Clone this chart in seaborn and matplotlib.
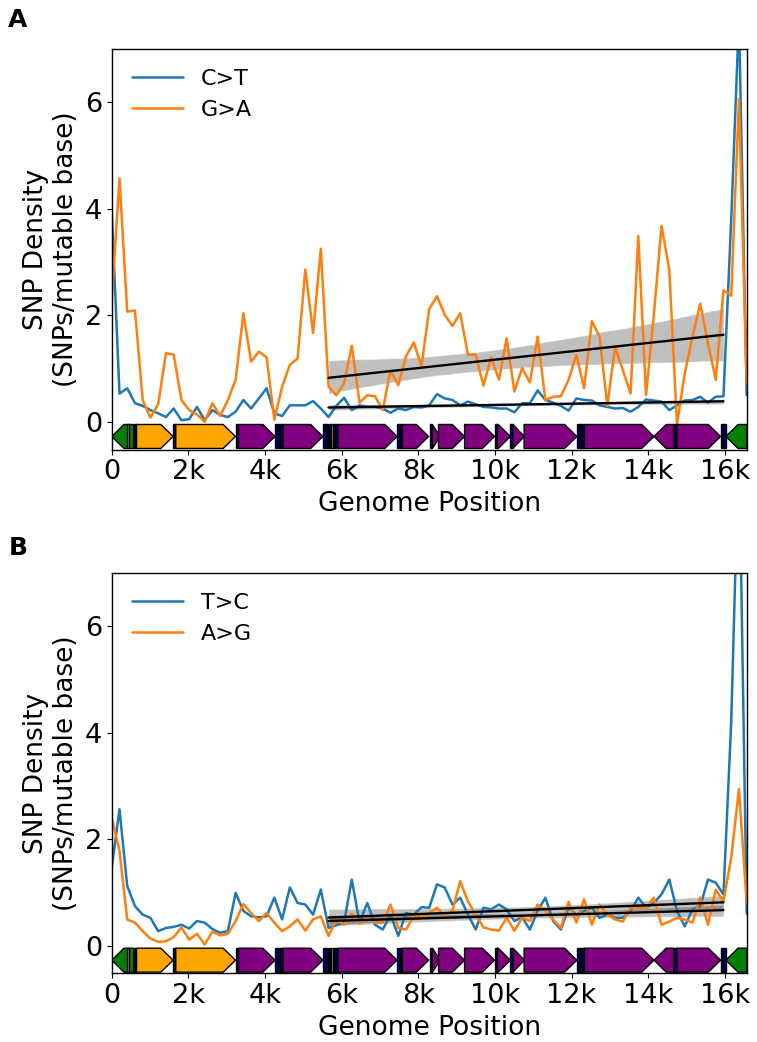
import numpy as np
import matplotlib.pyplot as plt
import seaborn as sns
from matplotlib.patches import Polygon, Rectangle

sns.set_style("ticks")
plt.rcParams['font.family'] = ['DejaVu Sans']
plt.rcParams.update({"text.color": "black", "axes.labelcolor": "black",
                     "xtick.color": "black", "ytick.color": "black",
                     "axes.edgecolor": "black"})

# bin positions along the mitochondrial genome (83 bins over 16569 bp)
pos = np.linspace(0, 16569, 83)

# Panel A
c_to_t = [3.96, 0.53, 0.63, 0.35, 0.30, 0.22, 0.16, 0.09, 0.25, 0.03,
          0.05, 0.28, 0.03, 0.22, 0.13, 0.09, 0.19, 0.41, 0.25, 0.44,
          0.63, 0.16, 0.11, 0.31, 0.31, 0.31, 0.39, 0.25, 0.09, 0.30,
          0.45, 0.22, 0.31, 0.28, 0.28, 0.25, 0.17, 0.25, 0.22, 0.28,
          0.27, 0.31, 0.52, 0.44, 0.41, 0.31, 0.38, 0.33, 0.28, 0.27,
          0.25, 0.25, 0.18, 0.35, 0.35, 0.59, 0.41, 0.36, 0.30, 0.21,
          0.44, 0.41, 0.40, 0.31, 0.28, 0.25, 0.26, 0.19, 0.28, 0.42,
          0.40, 0.38, 0.22, 0.31, 0.40, 0.41, 0.47, 0.36, 0.47, 0.48,
          3.8, 7.6, 0.5]
g_to_a = [2.30, 4.57, 2.07, 2.09, 0.41, 0.08, 0.33, 1.29, 1.26, 0.41,
          0.22, 0.14, 0.00, 0.35, 0.11, 0.41, 0.79, 2.04, 1.13, 1.32,
          1.21, 0.04, 0.66, 1.07, 1.19, 2.86, 1.67, 3.25, 0.66, 0.50,
          0.72, 1.43, 0.36, 0.50, 0.48, 0.22, 0.97, 0.69, 1.23, 1.49,
          1.04, 2.12, 2.36, 2.01, 1.80, 2.04, 1.26, 1.26, 0.68, 1.21,
          0.79, 1.57, 0.57, 1.01, 0.74, 1.60, 0.41, 0.47, 0.48, 0.79,
          1.26, 0.63, 1.89, 1.60, 0.30, 1.41, 0.97, 0.53, 3.49, 0.50,
          2.00, 3.68, 2.86, -0.05, 0.91, 1.60, 2.22, 1.48, 0.79, 2.47,
          2.37, 6.06, 0.72]

# Panel B
t_to_c = [1.46, 2.56, 1.12, 0.74, 0.58, 0.52, 0.27, 0.33, 0.35, 0.39,
          0.32, 0.46, 0.43, 0.31, 0.24, 0.27, 0.99, 0.65, 0.55, 0.53,
          0.55, 0.90, 0.49, 1.09, 0.80, 0.77, 0.58, 1.05, 0.33, 0.38,
          0.43, 1.24, 0.43, 0.80, 0.39, 0.30, 0.58, 0.18, 0.61, 0.58,
          0.72, 0.71, 1.15, 1.09, 0.77, 0.90, 0.58, 0.30, 0.71, 0.68,
          0.77, 0.68, 0.46, 0.53, 0.30, 0.65, 0.90, 0.46, 0.30, 0.71,
          0.58, 0.65, 0.71, 0.52, 0.58, 0.52, 0.52, 0.65, 0.90, 0.71,
          0.80, 0.96, 1.24, 0.65, 0.36, 0.68, 0.74, 1.24, 1.18, 0.96,
          4.2, 9.5, 0.6]
a_to_g = [2.40, 1.78, 0.49, 0.43, 0.27, 0.13, 0.07, 0.08, 0.16, 0.34,
          0.11, 0.22, 0.02, 0.26, 0.19, 0.22, 0.46, 0.78, 0.61, 0.46,
          0.61, 0.43, 0.27, 0.36, 0.49, 0.28, 0.49, 0.55, 0.18, 0.49,
          0.39, 0.60, 0.41, 0.52, 0.43, 0.43, 0.77, 0.33, 0.30, 0.55,
          0.54, 0.61, 0.71, 0.55, 0.65, 1.21, 0.83, 0.58, 0.34, 0.30,
          0.28, 0.52, 0.28, 0.52, 0.46, 0.77, 0.65, 0.49, 0.33, 0.82,
          0.43, 0.87, 0.39, 0.77, 0.58, 0.49, 0.45, 0.71, 0.71, 0.71,
          0.90, 0.39, 0.45, 0.52, 0.49, 0.43, 0.90, 0.39, 1.05, 0.83,
          1.65, 2.94, 0.80]

# bins used for the linear fit
fit_start, fit_end = 28, 80

# mtDNA features: name, start, end, strand, kind
genes = [
    ("D-loop", 0, 576, -1, "dloop"),
    ("promoter", 400, 450, 0, "pink"),
    ("tRNA-Phe", 577, 647, 0, "trna"),
    ("12S", 648, 1601, 1, "rrna"),
    ("tRNA-Val", 1602, 1670, 0, "trna"),
    ("16S", 1671, 3229, 1, "rrna"),
    ("tRNA-Leu", 3230, 3304, 0, "trna"),
    ("ND1", 3307, 4262, 1, "cds"),
    ("tRNA-Ile", 4263, 4331, 0, "trna"),
    ("tRNA-Gln", 4329, 4400, 0, "trna"),
    ("tRNA-Met", 4402, 4469, 0, "trna"),
    ("ND2", 4470, 5511, 1, "cds"),
    ("tRNA-Trp", 5512, 5579, 0, "trna"),
    ("tRNA-Ala", 5587, 5655, 0, "trna"),
    ("tRNA-Asn", 5657, 5729, 0, "trna"),
    ("OriL", 5730, 5770, 0, "ori"),
    ("tRNA-Cys", 5771, 5826, 0, "trna"),
    ("tRNA-Tyr", 5826, 5891, 0, "trna"),
    ("COI", 5904, 7445, 1, "cds"),
    ("tRNA-Ser", 7446, 7514, 0, "trna"),
    ("tRNA-Asp", 7518, 7585, 0, "trna"),
    ("COII", 7586, 8269, 1, "cds"),
    ("tRNA-Lys", 8295, 8364, 0, "trna"),
    ("ATP8", 8366, 8572, 1, "cds"),
    ("ATP6", 8527, 9207, 1, "cds"),
    ("COIII", 9207, 9990, 1, "cds"),
    ("tRNA-Gly", 9991, 10058, 0, "trna"),
    ("ND3", 10059, 10404, 1, "cds"),
    ("tRNA-Arg", 10405, 10469, 0, "trna"),
    ("ND4L", 10470, 10766, 1, "cds"),
    ("ND4", 10760, 12137, 1, "cds"),
    ("tRNA-His", 12138, 12206, 0, "trna"),
    ("tRNA-Ser2", 12207, 12265, 0, "trna"),
    ("tRNA-Leu2", 12266, 12336, 0, "trna"),
    ("ND5", 12337, 14148, 1, "cds"),
    ("ND6", 14149, 14673, -1, "cds"),
    ("tRNA-Glu", 14674, 14742, 0, "trna"),
    ("CYTB", 14747, 15887, 1, "cds"),
    ("tRNA-Thr", 15888, 15953, 0, "trna"),
    ("tRNA-Pro", 15956, 16023, 0, "trna"),
    ("D-loop", 16024, 16569, -1, "dloop"),
]
kind_colors = {"dloop": "green", "rrna": "orange", "cds": "purple",
               "trna": "navy", "ori": "#f0e040", "pink": "palevioletred"}


def draw_genes(ax):
    y0, y1 = -0.5, -0.05
    ym = (y0 + y1) / 2
    for name, start, end, strand, kind in genes:
        color = kind_colors[kind]
        if strand == 0:
            ax.add_patch(Rectangle((start, y0), end - start, y1 - y0, fc=color,
                                   ec="black", lw=1, zorder=3))
            continue
        head = min(320, end - start)
        if strand > 0:
            pts = [(start, y0), (end - head, y0), (end, ym), (end - head, y1), (start, y1)]
        else:
            pts = [(end, y0), (start + head, y0), (start, ym), (start + head, y1), (end, y1)]
        ax.add_patch(Polygon(pts, closed=True, fc=color, ec="black", lw=1, zorder=3))


def panel(ax, s1, s2, lab1, lab2):
    for ys in (s1, s2):
        sns.regplot(x=pos[fit_start:fit_end], y=np.array(ys)[fit_start:fit_end],
                    scatter=False, color="black", ci=95, seed=0, ax=ax,
                    line_kws=dict(lw=1.7, zorder=4))
    for coll in ax.collections:
        coll.set_alpha(0.25)
        coll.set_zorder(1)
    sns.lineplot(x=pos, y=s1, color="tab:blue", lw=1.8, label=lab1, ax=ax, zorder=2)
    sns.lineplot(x=pos, y=s2, color="tab:orange", lw=1.8, label=lab2, ax=ax, zorder=2)
    draw_genes(ax)
    ax.set_xlim(0, 16569)
    ax.set_ylim(-0.52, 7)
    ax.set_yticks([0, 2, 4, 6])
    ax.set_xticks(range(0, 16001, 2000))
    ax.set_xticklabels(["0"] + [f"{k}k" for k in range(2, 17, 2)])
    ax.tick_params(labelsize=19.5)
    ax.set_xlabel("Genome Position", fontsize=19)
    ax.set_ylabel("SNP Density\n(SNPs/mutable base)", fontsize=19)
    ax.legend(loc="upper left", frameon=False, fontsize=16, handlelength=2.3)
    for sp in ax.spines.values():
        sp.set_linewidth(1)


fig = plt.figure(figsize=(7.57, 10.42), dpi=100)
ax_a = fig.add_axes([0.1476, 0.5686, 0.8388, 0.3843])
ax_b = fig.add_axes([0.1476, 0.0660, 0.8388, 0.3843])
panel(ax_a, c_to_t, g_to_a, "C>T", "G>A")
panel(ax_b, t_to_c, a_to_g, "T>C", "A>G")
fig.text(0.011, 0.981, "A", fontsize=18, fontweight="bold", va="center")
fig.text(0.011, 0.474, "B", fontsize=18, fontweight="bold", va="center")

fig.savefig("out.png", dpi=100)
